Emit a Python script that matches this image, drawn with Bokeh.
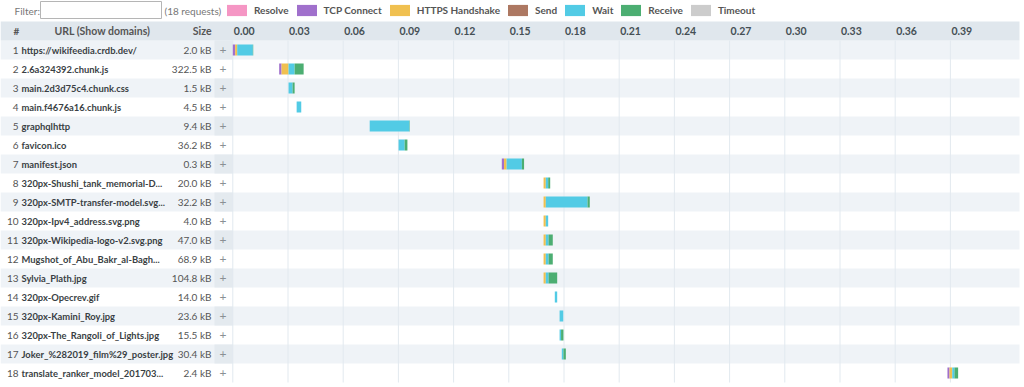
import numpy as np
from bokeh.plotting import figure
from bokeh.models import Range1d, Legend, LegendItem
from bokeh.core.properties import value
from bokeh.embed import file_html
from bokeh.resources import INLINE

# ---------------- data ----------------
rows = list(range(1, 19))
urls = [
    "https://wikifeedia.crdb.dev/",
    "2.6a324392.chunk.js",
    "main.2d3d75c4.chunk.css",
    "main.f4676a16.chunk.js",
    "graphqlhttp",
    "favicon.ico",
    "manifest.json",
    "320px-Shushi_tank_memorial-D...",
    "320px-SMTP-transfer-model.svg...",
    "320px-Ipv4_address.svg.png",
    "320px-Wikipedia-logo-v2.svg.png",
    "Mugshot_of_Abu_Bakr_al-Bagh...",
    "Sylvia_Plath.jpg",
    "320px-Opecrev.gif",
    "320px-Kamini_Roy.jpg",
    "320px-The_Rangoli_of_Lights.jpg",
    "Joker_%282019_film%29_poster.jpg",
    "translate_ranker_model_201703...",
]
sizes = ["2.0 kB", "322.5 kB", "1.5 kB", "4.5 kB", "9.4 kB", "36.2 kB", "0.3 kB",
         "20.0 kB", "32.2 kB", "4.0 kB", "47.0 kB", "68.9 kB", "104.8 kB", "14.0 kB",
         "23.6 kB", "15.5 kB", "30.4 kB", "2.4 kB"]

# timings in milliseconds
start_ms   = [0.0, 25.2, 30.3, 34.7, 74.4, 90.1, 146.2, 168.9, 168.9, 168.9, 168.9, 168.9,
              168.9, 175.0, 177.6, 177.6, 178.8, 388.4]
resolve_ms = [0.0, 0.0, 0.0, 0.0, 0.0, 0.0, 0.0, 0.0, 0.0, 0.0, 0.0, 0.0,
              0.0, 0.0, 0.0, 0.0, 0.0, 0.0]
connect_ms = [1.3, 1.3, 0.0, 0.0, 0.0, 0.0, 1.2, 0.0, 0.0, 0.0, 0.0, 0.0,
              0.0, 0.0, 0.0, 0.0, 0.0, 1.1]
ssl_ms     = [1.1, 3.8, 0.0, 0.0, 0.0, 0.0, 1.4, 1.2, 1.2, 1.2, 1.2, 1.2,
              1.2, 0.0, 0.0, 0.0, 0.0, 1.5]
send_ms    = [0.0, 0.0, 0.0, 0.0, 0.0, 0.0, 0.0, 0.0, 0.0, 0.0, 0.0, 0.0,
              0.0, 0.0, 0.0, 0.0, 0.0, 0.0]
wait_ms    = [8.5, 3.3, 2.2, 2.5, 21.6, 3.3, 8.3, 1.3, 22.7, 1.3, 1.5, 1.5,
              1.5, 1.3, 2.0, 0.8, 0.9, 1.2]
receive_ms = [0.2, 4.9, 1.1, 0.0, 0.2, 1.5, 1.2, 1.1, 1.2, 0.0, 2.3, 2.3,
              4.7, 0.0, 0.0, 1.3, 1.3, 2.0]
timeout_ms = [0.0, 0.0, 0.0, 0.0, 0.0, 0.0, 0.0, 0.0, 0.0, 0.0, 0.0, 0.0,
              0.0, 0.0, 0.0, 0.0, 0.0, 0.0]

phase_names = ["Resolve", "TCP Connect", "HTTPS Handshake", "Send", "Wait", "Receive", "Timeout"]
phase_colors = ["#f596c4", "#a070cc", "#f0c050", "#ad7862", "#52cbe5", "#4cae72", "#cccccc"]
phase_values = [resolve_ms, connect_ms, ssl_ms, send_ms, wait_ms, receive_ms, timeout_ms]

tick_values = [0.00, 0.03, 0.06, 0.09, 0.12, 0.15, 0.18, 0.21, 0.24, 0.27, 0.30, 0.33, 0.36, 0.39]
tick_labels = ["0.00", "0.03", "0.06", "0.09", "0.12", "0.15", "0.18", "0.21", "0.24",
               "0.27", "0.30", "0.33", "0.36", "0.39"]

# ---------------- geometry ----------------
W, H = 1024, 387
ORIGIN_PX = 232.3     # pixel position of t = 0
SCALE = 1840.0        # pixels per second
ROW0_PX = 30.5        # pixel centre of header row (row 0)
PITCH = 19.0

def px2x(px):
    return (px - ORIGIN_PX) / SCALE

def py2y(py):
    return (py - ROW0_PX) / PITCH

FONT = value("Lato")

p = figure(width=W, height=H, output_backend="svg", toolbar_location=None,
           x_range=Range1d(px2x(0), px2x(W)), y_range=Range1d(py2y(H), py2y(0)),
           min_border=0, outline_line_color=None, background_fill_color="white")
p.axis.visible = False
p.grid.visible = False

n = len(rows)
LEFT = px2x(0)
RIGHT = px2x(1019)
PLUS_L = px2x(214)
ZERO = px2x(232.3)

# row backgrounds
odd = [r for r in rows if r % 2 == 1]
p.quad(left=LEFT, right=RIGHT, bottom=[r - 0.5 for r in odd], top=[r + 0.5 for r in odd],
       fill_color="#eff3f7", line_color=None)
p.quad(left=PLUS_L, right=ZERO, bottom=[r - 0.5 for r in odd], top=[r + 0.5 for r in odd],
       fill_color="#e4eaef", line_color=None)
# header background
p.quad(left=LEFT, right=RIGHT, bottom=0.5, top=-0.5, fill_color="#e0e7ed", line_color=None)

# grid lines
p.segment(x0=tick_values, x1=tick_values, y0=0.5, y1=rows[-1] + 0.5,
          line_color="#e2e9ef", line_width=1)

# bars
left = np.array(start_ms) / 1000.0
renderers = []
for name, col, vals in zip(phase_names, phase_colors, phase_values):
    right = left + np.array(vals) / 1000.0
    r = p.hbar(y=rows, left=left, right=right, height=0.58, fill_color=col, line_color=None)
    renderers.append(r)
    left = right

# header texts
p.text(x=[px2x(13)], y=[0], text=["#"], text_font=FONT, text_font_size="10px",
       text_font_style="bold", text_color="#555555", text_baseline="middle")
p.text(x=[px2x(54)], y=[0], text=["URL (Show domains)"], text_font=FONT, text_font_size="10.5px",
       text_font_style="bold", text_color="#555555", text_baseline="middle")
p.text(x=[px2x(211)], y=[0], text=["Size"], text_font=FONT, text_font_size="10.5px",
       text_font_style="bold", text_color="#555555", text_baseline="middle", text_align="right")
p.text(x=tick_values, y=[0] * len(tick_values), text=tick_labels, x_offset=1,
       text_font=FONT, text_font_size="10.5px", text_font_style="bold",
       text_color="#454f55", text_baseline="middle", text_align="left")

# row texts
p.text(x=[px2x(18)] * n, y=rows, text=[str(r) for r in rows], text_font=FONT,
       text_font_size="10px", text_color="#555555", text_baseline="middle", text_align="right")
p.text(x=[px2x(21)] * n, y=rows, text=urls, text_font=FONT, text_font_size="9.4px",
       text_font_style="bold", text_color="#3a3f44", text_baseline="middle", text_align="left")
p.text(x=[px2x(211)] * n, y=rows, text=sizes, text_font=FONT, text_font_size="10px",
       text_color="#555555", text_baseline="middle", text_align="right")
p.text(x=[px2x(222.5)] * n, y=rows, text=["+"] * n, text_font=FONT, text_font_size="12px",
       text_color="#8a8f94", text_baseline="middle", text_align="center")

# filter row
fy = py2y(10)
p.text(x=[px2x(14)], y=[fy], text=["Filter:"], text_font=FONT, text_font_size="10px",
       text_color="#777777", text_baseline="middle")
p.quad(left=px2x(40), right=px2x(161), bottom=py2y(18), top=py2y(1),
       fill_color="white", line_color="#b5b5b5", line_width=1)
p.text(x=[px2x(164)], y=[fy], text=["(%d requests)" % n], text_font=FONT, text_font_size="10px",
       text_color="#777777", text_baseline="middle")

legend = Legend(items=[LegendItem(label=nm, renderers=[r]) for nm, r in zip(phase_names, renderers)],
                orientation="horizontal", location=(224, H - 17),
                glyph_width=25, glyph_height=14, label_height=14, label_width=10,
                label_standoff=5, spacing=5, padding=0, margin=0,
                border_line_color=None, background_fill_alpha=0,
                label_text_font="Lato", label_text_font_size="10px",
                label_text_font_style="bold", label_text_color="#555555",
                click_policy="none")
p.add_layout(legend)

open("out.html", "w").write(file_html(p, INLINE))
